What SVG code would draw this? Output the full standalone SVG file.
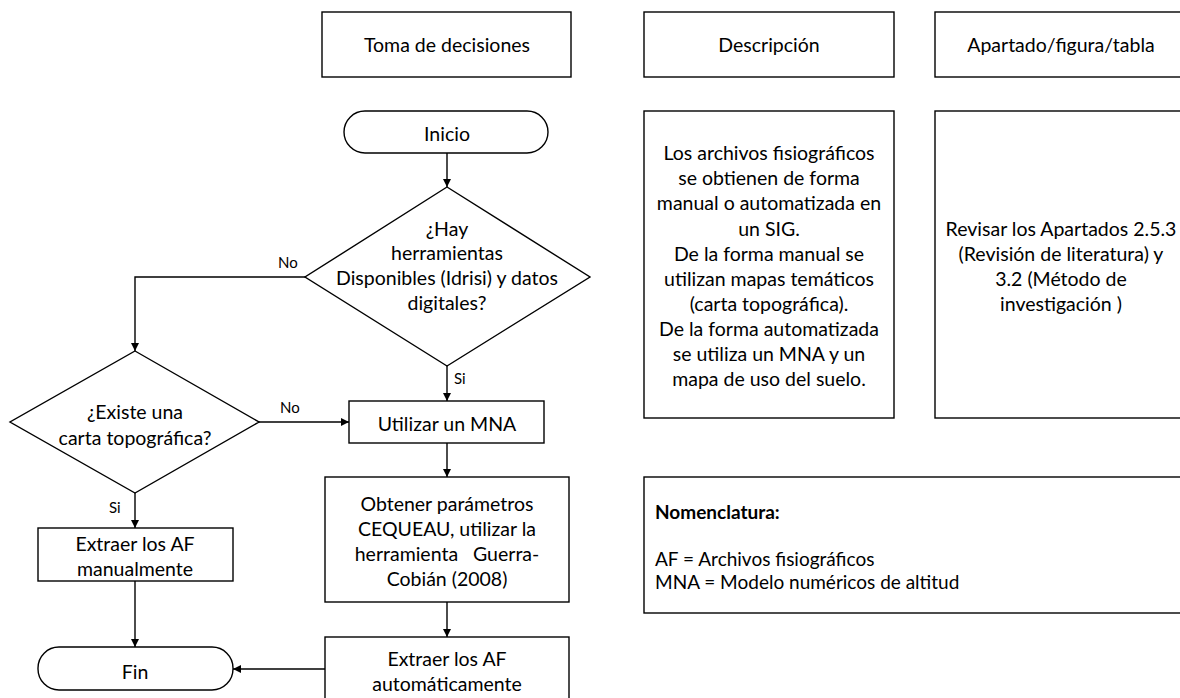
<svg xmlns="http://www.w3.org/2000/svg" width="1180" height="698" viewBox="0 0 1180 698">
  <defs>
    <marker id="arrow" viewBox="0 0 10 10" refX="10" refY="5" markerWidth="9" markerHeight="8" markerUnits="userSpaceOnUse" orient="auto">
      <path d="M0,0 L10,5 L0,10 z" fill="#000"/>
    </marker>
  </defs>
  <style>
    .box { fill: #fff; stroke: #000; stroke-width: 1.4; }
    .t { font-family: Lato, "Liberation Sans", sans-serif; font-size: 19.5px; fill: #000; text-anchor: middle; dominant-baseline: central; white-space: pre; }
    .lbl { font-family: Lato, "Liberation Sans", sans-serif; font-size: 15px; fill: #000; dominant-baseline: central; }
    .tl { font-family: Lato, "Liberation Sans", sans-serif; font-size: 19px; fill: #000; dominant-baseline: central; }
    .edge { fill: none; stroke: #000; stroke-width: 1.4; marker-end: url(#arrow); }
  </style>
  <rect width="1180" height="698" fill="#fff"/>

  <!-- column headers -->
  <g id="hdr-toma">
    <rect class="box" x="322" y="12" width="249" height="65"/>
    <text class="t" x="447" y="44">Toma de decisiones</text>
  </g>
  <g id="hdr-desc">
    <rect class="box" x="644" y="12" width="250" height="65"/>
    <text class="t" x="769" y="44">Descripción</text>
  </g>
  <g id="hdr-apartado">
    <rect class="box" x="935" y="12" width="260" height="65"/>
    <text class="t" x="1061" y="44">Apartado/figura/tabla</text>
  </g>

  <!-- description and references -->
  <g id="desc">
    <rect class="box" x="644" y="111" width="250" height="307"/>
    <text class="t" x="769" y="152">Los archivos fisiográficos</text>
    <text class="t" x="769" y="177">se obtienen de forma</text>
    <text class="t" x="769" y="202">manual o automatizada en</text>
    <text class="t" x="769" y="228">un SIG.</text>
    <text class="t" x="769" y="253">De la forma manual se</text>
    <text class="t" x="769" y="278">utilizan mapas temáticos</text>
    <text class="t" x="769" y="303">(carta topográfica).</text>
    <text class="t" x="769" y="328">De la forma automatizada</text>
    <text class="t" x="769" y="353">se utiliza un MNA y un</text>
    <text class="t" x="769" y="378">mapa de uso del suelo.</text>
  </g>
  <g id="apartado">
    <rect class="box" x="935" y="111" width="260" height="307"/>
    <text class="t" x="1061" y="228">Revisar los Apartados 2.5.3</text>
    <text class="t" x="1061" y="253">(Revisión de literatura) y</text>
    <text class="t" x="1061" y="278">3.2 (Método de</text>
    <text class="t" x="1061" y="303">investigación )</text>
  </g>
  <g id="nomenclatura">
    <rect class="box" x="644" y="477" width="551" height="136"/>
    <text class="tl" x="655" y="511" font-weight="bold" font-size="18">Nomenclatura:</text>
    <text class="tl" x="655" y="558">AF = Archivos fisiográficos</text>
    <text class="tl" x="655" y="581">MNA = Modelo numéricos de altitud</text>
  </g>

  <!-- flowchart nodes -->
  <g id="inicio">
    <rect class="box" x="344" y="111" width="204" height="42" rx="21" ry="21"/>
    <text class="t" x="447" y="133">Inicio</text>
  </g>
  <g id="q-herramientas">
    <polygon class="box" points="447,187 590,277 447,366 305,277"/>
    <text class="t" x="447" y="228">¿Hay</text>
    <text class="t" x="447" y="252">herramientas</text>
    <text class="t" x="447" y="277">Disponibles (Idrisi) y datos</text>
    <text class="t" x="447" y="302">digitales?</text>
  </g>
  <g id="q-carta">
    <polygon class="box" points="135,351 259,422 135,493 10,422"/>
    <text class="t" x="135" y="411">¿Existe una</text>
    <text class="t" x="135" y="437">carta topográfica?</text>
  </g>
  <g id="mna">
    <rect class="box" x="349" y="401" width="195" height="42"/>
    <text class="t" x="447" y="423">Utilizar un MNA</text>
  </g>
  <g id="cequeau">
    <rect class="box" x="325" y="477" width="244" height="125"/>
    <text class="t" x="447" y="503">Obtener parámetros</text>
    <text class="t" x="447" y="528">CEQUEAU, utilizar la</text>
    <text class="t" x="447" y="553">herramienta   Guerra-</text>
    <text class="t" x="447" y="578">Cobián (2008)</text>
  </g>
  <g id="af-auto">
    <rect class="box" x="325" y="637" width="244" height="70"/>
    <text class="t" x="447" y="658">Extraer los AF</text>
    <text class="t" x="447" y="683">automáticamente</text>
  </g>
  <g id="af-manual">
    <rect class="box" x="38" y="528" width="195" height="53"/>
    <text class="t" x="135" y="543">Extraer los AF</text>
    <text class="t" x="135" y="568">manualmente</text>
  </g>
  <g id="fin">
    <rect class="box" x="38" y="647" width="195" height="43" rx="21" ry="21"/>
    <text class="t" x="135" y="671">Fin</text>
  </g>

  <!-- connectors -->
  <g id="connectors">
    <path class="edge" d="M447,153 V187"/>
    <path class="edge" d="M305,277 H135 V351"/>
    <path class="edge" d="M447,366 V401"/>
    <path class="edge" d="M259,422 H349"/>
    <path class="edge" d="M447,443 V477"/>
    <path class="edge" d="M447,602 V637"/>
    <path class="edge" d="M135,493 V528"/>
    <path class="edge" d="M135,581 V647"/>
    <path class="edge" d="M325,669 H233"/>
    <text class="lbl" x="278" y="262">No</text>
    <text class="lbl" x="454" y="378">Si</text>
    <text class="lbl" x="280" y="407">No</text>
    <text class="lbl" x="109" y="507">Si</text>
  </g>
</svg>
